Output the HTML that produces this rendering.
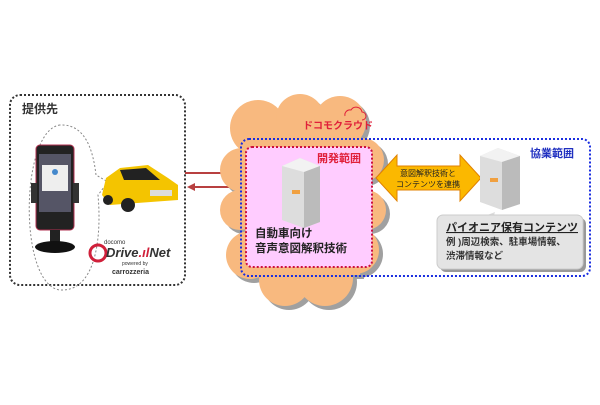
<!DOCTYPE html>
<html><head><meta charset="utf-8"><style>
body{margin:0;background:#fff;width:600px;height:400px;overflow:hidden;font-family:"Liberation Sans","Noto Sans CJK JP",sans-serif}
</style></head><body>
<svg width="600" height="400" viewBox="0 0 600 400" xmlns="http://www.w3.org/2000/svg" font-family="Liberation Sans, Noto Sans CJK JP, sans-serif">
<defs>
<g id="cl">
<circle cx="258" cy="128" r="28"/><circle cx="300" cy="118" r="24"/><circle cx="340" cy="122" r="26"/><circle cx="362" cy="160" r="22"/><circle cx="366" cy="210" r="20"/><circle cx="355" cy="250" r="24"/><circle cx="325" cy="278" r="28"/><circle cx="285" cy="280" r="26"/><circle cx="250" cy="255" r="24"/><circle cx="240" cy="210" r="20"/><circle cx="242" cy="170" r="22"/><rect x="245" y="130" width="115" height="145"/>
</g>
</defs>
<!-- left box -->
<rect x="10" y="95" width="175" height="190" rx="10" fill="#fff" stroke="#333" stroke-width="2" stroke-dasharray="2,2"/>
<text x="22" y="113" font-size="12" font-weight="bold" fill="#333">提供先</text>
<path d="M60 125 C20 130 18 285 60 290 C95 292 102 240 98 195 L108 182 L96 175 C92 140 80 124 60 125Z" fill="none" stroke="#888" stroke-dasharray="2,2"/>
<!-- phone -->
<rect x="36" y="145" width="38" height="85" rx="4" fill="#222" stroke="#b03050"/>
<rect x="39" y="154" width="32" height="58" fill="#556"/>
<rect x="42" y="165" width="26" height="26" fill="#eee"/>
<circle cx="55" cy="172" r="3" fill="#48c"/>
<rect x="31" y="183" width="6" height="20" fill="#333"/><rect x="73" y="183" width="6" height="20" fill="#333"/>
<rect x="50" y="230" width="10" height="12" fill="#222"/>
<ellipse cx="55" cy="247" rx="20" ry="6" fill="#111"/>
<!-- car -->
<path d="M102 195 L106 178 L120 168 L148 165 L168 178 L178 185 L178 200 L110 205Z" fill="#f4c400"/>
<path d="M120 170 L146 168 L160 180 L124 180Z" fill="#222"/>
<circle cx="128" cy="205" r="7" fill="#222"/><circle cx="108" cy="200" r="5" fill="#222"/>
<rect x="150" y="190" width="22" height="6" fill="#ddd"/>
<!-- logo -->
<circle cx="98" cy="253" r="8" fill="none" stroke="#d0203a" stroke-width="3"/>
<text x="104" y="244" font-size="6" fill="#333">docomo</text>
<text x="106" y="257" font-size="13" font-weight="bold" font-style="italic" fill="#333">Drive<tspan fill="#d0203a">.ıl</tspan>Net</text>
<text x="122" y="265" font-size="5" fill="#333">powered by</text>
<text x="112" y="274" font-size="7" font-weight="bold" fill="#333">carrozzeria</text>
<!-- arrows -->
<line x1="185" y1="173" x2="236" y2="173" stroke="#b84040" stroke-width="2"/>
<polygon points="240,173 232,169 232,177" fill="#b84040"/>
<line x1="192" y1="187" x2="240" y2="187" stroke="#b84040" stroke-width="2"/>
<polygon points="187,187 195,183 195,191" fill="#b84040"/>
<!-- cloud -->
<use href="#cl" fill="#a0a0a0" transform="translate(4,4)"/>
<use href="#cl" fill="#f8b97f"/>
<text x="303" y="129" font-size="10" font-weight="bold" fill="#e0203a">ドコモクラウド</text>
<path d="M345 116 a5 5 0 0 1 6-6 a6 6 0 0 1 11 2 a4 4 0 0 1 0 8" fill="none" stroke="#e0203a"/>
<!-- blue box -->
<rect x="241" y="139" width="349" height="137" rx="8" fill="none" stroke="#1a2ee0" stroke-width="2" stroke-dasharray="2,2"/>
<text x="530" y="157" font-size="11" font-weight="bold" fill="#2030c0">協業範囲</text>
<!-- red box -->
<rect x="246" y="147" width="126" height="120" rx="6" fill="#ffccff" stroke="#cc1040" stroke-width="2" stroke-dasharray="2,2"/>
<text x="317" y="162" font-size="11" font-weight="bold" fill="#e0203a">開発範囲</text>
<!-- server left -->
<g>
<polygon points="282,166 300,158 320,166 320,222 304,228 282,220" fill="#ddd"/>
<polygon points="282,166 300,158 320,166 304,172" fill="#f2f2f2"/>
<polygon points="304,172 320,166 320,222 304,228" fill="#bbb"/>
<rect x="292" y="190" width="8" height="4" fill="#f0a040"/>
</g>
<text x="255" y="237" font-size="11.5" font-weight="bold" fill="#222">自動車向け</text>
<text x="255" y="252" font-size="11.5" font-weight="bold" fill="#222">音声意図解釈技術</text>
<!-- orange double arrow -->
<polygon points="376,178 397,155 397,166 460,166 460,155 481,178 460,201 460,190 397,190 397,201" fill="#fbb800" stroke="#e08000"/>
<text x="428" y="176" font-size="8" text-anchor="middle" fill="#222">意図解釈技術と</text>
<text x="428" y="187" font-size="8" text-anchor="middle" fill="#222">コンテンツを連携</text>
<!-- server right -->
<g>
<polygon points="480,156 498,148 520,156 520,204 502,210 480,202" fill="#ddd"/>
<polygon points="480,156 498,148 520,156 502,162" fill="#f2f2f2"/>
<polygon points="502,162 520,156 520,204 502,210" fill="#bbb"/>
<rect x="490" y="178" width="8" height="4" fill="#f0a040"/>
</g>
<!-- callout -->
<polygon points="480,218 495,212 492,222" fill="#ddd"/>
<rect x="440" y="218" width="146" height="54" rx="6" fill="#999"/>
<rect x="437" y="215" width="146" height="54" rx="6" fill="#e4e4e4" stroke="#ccc"/>
<text x="446" y="231" font-size="11" font-weight="bold" fill="#222" text-decoration="underline">パイオニア保有コンテンツ</text>
<text x="446" y="245" font-size="9.5" font-weight="bold" fill="#333">例 )周辺検索、駐車場情報、</text>
<text x="446" y="259" font-size="9.5" font-weight="bold" fill="#333">渋滞情報など</text>
</svg>
</body></html>
